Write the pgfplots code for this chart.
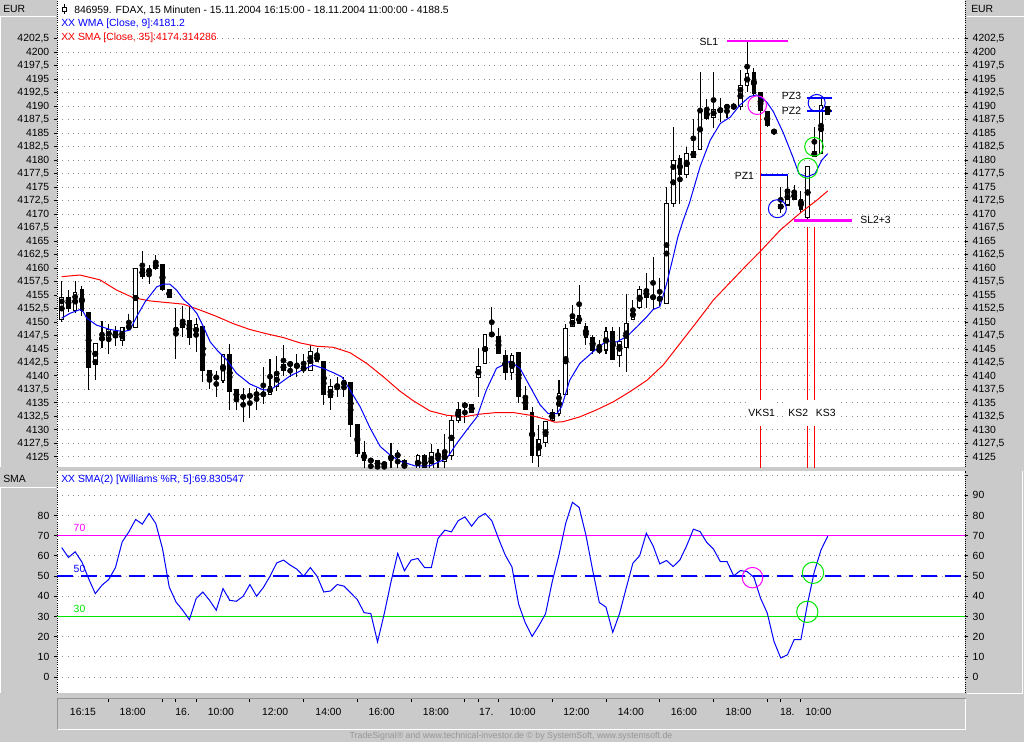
\documentclass[border=0pt]{standalone}
\usepackage{pgfplots}
\pgfplotsset{compat=1.18}
\usepackage{pgfplotstable}
\usepackage{fontspec}
\setmainfont{Liberation Sans}

\definecolor{panelgray}{RGB}{202,202,202}
\definecolor{gridgray}{RGB}{140,140,140}
\definecolor{edgegray}{RGB}{150,150,150}
\definecolor{tsblue}{RGB}{0,0,255}
\definecolor{tsred}{RGB}{255,0,0}
\definecolor{tsmag}{RGB}{255,0,255}
\definecolor{tsgreen}{RGB}{0,230,0}
\definecolor{footgray}{RGB}{150,150,150}

\newcommand{\tsfont}{\fontsize{7.8}{9.4}\selectfont}

\pgfplotstableread{
i O H L C
0 4150.5 4157.6 4150.0 4154.5
1 4154.6 4156.0 4151.9 4152.5
2 4152.2 4157.6 4151.7 4155.4
3 4156.0 4156.7 4151.1 4152.2
4 4151.7 4151.7 4137.3 4141.5
5 4142.2 4146.0 4139.2 4146.0
6 4146.6 4150.2 4145.1 4147.2
7 4147.1 4149.6 4144.0 4148.6
8 4148.2 4149.3 4145.6 4147.1
9 4146.6 4149.0 4145.6 4149.0
10 4148.6 4151.5 4148.3 4149.6
11 4149.0 4159.9 4149.0 4159.9
12 4159.9 4163.1 4157.9 4158.4
13 4159.0 4160.6 4157.0 4159.9
14 4159.9 4162.5 4159.6 4161.0
15 4160.6 4160.6 4155.7 4156.0
16 4156.0 4156.0 4154.5 4154.5
17 4148.1 4152.5 4143.1 4149.0
18 4149.0 4153.0 4147.2 4150.2
19 4150.3 4153.0 4145.7 4147.2
20 4147.5 4150.7 4144.5 4149.6
21 4149.1 4149.1 4138.8 4141.0
22 4141.0 4141.0 4137.5 4139.5
23 4139.7 4141.0 4136.0 4139.7
24 4139.2 4144.1 4138.6 4144.0
25 4144.0 4146.0 4133.6 4137.1
26 4137.5 4137.5 4133.7 4135.6
27 4136.1 4137.8 4131.5 4136.1
28 4136.6 4137.8 4132.1 4136.0
29 4136.6 4137.8 4133.6 4136.6
30 4136.6 4141.7 4134.8 4136.6
31 4136.6 4143.1 4136.6 4138.1
32 4138.0 4143.7 4137.2 4140.6
33 4141.0 4145.7 4140.0 4142.2
34 4142.2 4142.2 4139.7 4142.2
35 4142.2 4144.0 4139.7 4141.5
36 4141.7 4144.0 4140.6 4141.0
37 4141.0 4145.7 4141.0 4144.5
38 4144.0 4145.1 4142.6 4142.6
39 4142.6 4142.6 4134.6 4136.6
40 4136.0 4139.4 4133.6 4138.1
41 4138.1 4139.7 4136.0 4138.1
42 4138.1 4139.7 4136.0 4139.2
43 4138.8 4138.8 4128.6 4131.0
44 4131.0 4131.0 4125.0 4125.6
45 4125.8 4128.0 4122.0 4124.3
46 4124.3 4124.5 4122.0 4124.3
47 4124.3 4124.3 4122.0 4123.2
48 4123.3 4124.3 4122.0 4124.0
49 4124.4 4127.5 4122.0 4125.3
50 4125.3 4126.2 4122.0 4125.3
51 4124.4 4124.6 4122.0 4122.5
52 4122.8 4122.9 4121.5 4122.2
53 4122.5 4125.6 4122.0 4125.3
54 4125.3 4125.6 4122.0 4122.5
55 4122.5 4127.3 4122.0 4125.8
56 4125.3 4126.4 4123.0 4125.3
57 4124.1 4129.3 4122.5 4125.8
58 4125.3 4132.5 4124.4 4131.8
59 4131.8 4135.2 4131.2 4133.8
60 4134.4 4135.2 4131.2 4134.7
61 4134.7 4134.7 4133.2 4133.2
62 4139.7 4145.2 4136.1 4141.7
63 4142.3 4147.7 4142.2 4147.7
64 4147.7 4152.7 4147.2 4147.7
65 4147.3 4148.8 4144.1 4144.1
66 4143.8 4144.8 4139.3 4140.7
67 4140.7 4144.3 4139.3 4143.8
68 4144.3 4144.3 4134.9 4136.1
69 4136.2 4138.2 4133.8 4133.8
70 4133.2 4134.3 4123.8 4125.2
71 4125.2 4130.9 4123.1 4128.2
72 4127.6 4131.5 4126.9 4131.5
73 4131.7 4133.8 4131.5 4133.2
74 4133.0 4139.3 4132.5 4136.7
75 4136.6 4149.7 4136.6 4148.8
76 4149.1 4153.1 4149.1 4150.6
77 4151.2 4156.9 4149.7 4149.7
78 4149.2 4149.8 4145.7 4147.2
79 4147.2 4147.5 4144.0 4144.8
80 4144.8 4146.7 4144.1 4144.8
81 4144.8 4149.1 4144.1 4148.3
82 4148.3 4149.1 4143.1 4143.1
83 4143.8 4149.1 4141.7 4146.3
84 4145.2 4155.1 4140.7 4149.7
85 4150.4 4154.0 4150.4 4152.3
86 4152.6 4156.6 4152.5 4156.0
87 4156.0 4159.0 4152.5 4154.5
88 4154.6 4162.0 4152.5 4154.6
89 4154.6 4158.2 4153.0 4154.0
90 4153.5 4175.0 4153.5 4171.9
91 4171.9 4186.2 4171.3 4179.9
92 4180.3 4181.0 4171.9 4177.3
93 4177.3 4182.4 4176.7 4181.3
94 4180.5 4187.6 4180.5 4181.6
95 4182.0 4196.4 4182.0 4189.4
96 4189.2 4191.3 4187.5 4187.8
97 4188.0 4196.4 4185.9 4189.4
98 4189.1 4191.5 4187.1 4189.4
99 4189.9 4190.4 4187.8 4189.9
100 4189.9 4190.7 4189.3 4189.9
101 4189.9 4196.8 4189.3 4193.9
102 4193.9 4202.0 4192.7 4196.0
103 4196.3 4197.0 4192.1 4192.3
104 4192.5 4192.5 4188.4 4189.3
105 4189.0 4189.0 4186.1 4186.5
106 4185.3 4185.3 4185.3 4185.3
107 4171.1 4175.1 4170.2 4171.7
108 4171.7 4177.0 4171.5 4174.6
109 4174.1 4175.4 4172.7 4172.7
110 4172.7 4174.2 4170.2 4170.9
111 4169.3 4178.8 4169.1 4178.8
112 4180.7 4186.1 4180.7 4181.6
113 4181.3 4191.5 4181.3 4190.2
114 4189.9 4190.0 4188.4 4188.4
}\candles

\pgfplotstableread{
i p
0 4150.7
1.24 4151.6
2.72 4152.3
3.2 4151.9
3.72 4150.7
5.2 4149.4
7.19 4148.6
9.17 4148.2
10.16 4148.5
11.16 4151.0
12.4 4153.7
14.14 4156.5
15.1 4157.0
16.1 4157.0
17.1 4155.9
18.1 4154.2
19.1 4153.1
20.1 4151.6
21.1 4149.1
22.1 4146.3
23.1 4144.8
24.6 4142.9
26.0 4140.5
28.0 4138.5
30.0 4137.4
31.0 4137.4
32.0 4138.2
34.0 4140.0
36.0 4141.2
37.4 4142.0
38.9 4141.4
40.4 4140.6
41.7 4139.8
42.9 4137.4
44.4 4134.3
45.9 4130.3
47.4 4126.9
48.9 4125.3
50.3 4124.2
52.6 4123.3
54.8 4123.3
57.3 4124.7
58.8 4127.5
60.3 4130.0
61.8 4132.4
63.2 4137.4
64.7 4141.4
66.7 4142.7
68.2 4141.4
69.7 4138.0
71.2 4134.6
72.4 4133.0
73.7 4133.0
74.4 4134.3
75.6 4139.2
77.1 4142.3
79.1 4144.5
81.1 4146.5
82.6 4146.3
84.1 4147.3
85.6 4149.1
87.1 4151.0
88.0 4152.3
89.0 4152.8
90.0 4157.0
91.0 4162.1
91.7 4165.8
92.5 4168.9
93.4 4172.0
95.0 4178.8
96.5 4183.7
98.0 4186.8
99.5 4188.0
100.9 4190.2
102.4 4191.8
103.4 4192.1
104.9 4190.8
105.9 4189.0
107.4 4185.0
108.8 4180.6
109.7 4177.5
110.9 4176.9
112.1 4177.5
113.1 4180.0
114.0 4181.2
}\wma

\pgfplotstableread{
i p
0 4158.4
2.72 4158.7
5.7 4157.8
8.18 4155.9
10.65 4154.5
13.14 4153.9
15.6 4153.6
18.1 4153.3
20.6 4152.2
23.1 4151.0
25.5 4149.7
28.0 4148.6
30.5 4147.8
33.0 4147.1
35.5 4146.1
37.9 4145.5
40.4 4145.3
42.9 4144.3
45.4 4142.3
47.9 4139.8
50.3 4137.2
52.3 4135.4
54.8 4133.5
57.3 4132.7
59.8 4132.4
62.2 4132.9
64.7 4133.2
67.2 4133.2
69.7 4132.7
72.2 4131.9
73.4 4131.4
74.6 4131.5
77.1 4132.4
79.6 4133.7
82.1 4135.2
84.6 4137.1
87.1 4139.2
89.5 4142.0
92.0 4146.0
94.5 4150.0
97.0 4154.1
101.9 4160.5
103.9 4163.0
106.9 4167.0
109.8 4170.1
112.4 4172.6
114.0 4174.3
}\sma

\pgfplotstableread{
i v
0 64.1
1 59.2
2 62.0
3 57.0
4 48.8
5 41.3
6 45.5
7 48.3
8 54.2
9 66.9
10 71.9
11 78.0
12 75.7
13 81.0
14 76.0
15 63.6
16 44.6
17 37.2
18 33.1
19 28.4
20 38.8
21 42.1
22 38.0
23 33.1
24 43.8
25 38.0
26 37.5
27 40.0
28 45.8
29 40.0
30 44.3
31 49.9
32 56.5
33 57.9
34 55.4
35 53.4
36 49.9
37 54.2
38 49.9
39 42.1
40 42.6
41 45.8
42 45.0
43 41.7
44 38.3
45 31.9
46 31.4
47 17.4
48 31.4
49 47.1
50 61.2
51 52.6
52 57.9
53 58.7
54 54.2
55 54.2
56 68.6
57 72.7
58 71.9
59 77.4
60 79.3
61 74.7
62 79.0
63 81.0
64 77.4
65 68.6
66 60.4
67 54.5
68 36.0
69 26.7
70 20.1
71 25.4
72 31.3
73 47.3
74 60.5
75 76.1
76 86.5
77 84.0
78 70.4
79 53.1
80 36.9
81 34.6
82 22.1
83 31.3
84 44.0
85 56.4
86 60.0
87 71.2
88 65.0
89 56.0
90 57.7
91 54.7
92 58.0
93 65.0
94 73.2
95 72.0
96 66.6
97 63.3
98 57.2
99 57.2
100 50.1
101 52.7
102 52.2
103 49.4
104 39.0
105 31.6
106 17.6
107 9.4
108 11.0
109 18.5
110 18.5
111 36.6
112 52.2
113 63.0
114 69.8
}\wpr

\pgfplotsset{
  tsbase/.style={
    scale only axis, width=681pt, anchor=north west,
    xmin=-0.7, xmax=134.42,
    axis x line=none,
    tick align=outside, major tick length=2.25pt,
    ytick style={black, line width=0.6pt},
    y axis line style={black, densely dotted, line width=0.6pt},
    /pgf/number format/assume math mode=true,
    tick label style={font=\tsfont, black},
    major grid style={gridgray, line width=0.75pt, dash pattern=on 0.75pt off 3.25pt},
    scaled y ticks=false,
  },
  topaxis/.style={tsbase, at={(42.75pt,0pt)}, height=350.25pt,
    ymin=4123.1, ymax=4209.7,
    ytick={4125,4127.5,...,4202.5},
    yticklabel style={/pgf/number format/.cd, fixed, precision=1, use comma, 1000 sep={}},
  },
  botaxis/.style={tsbase, at={(42.75pt,-353.25pt)}, height=166.5pt,
    ymin=-7.9, ymax=102},
  candlebar/.style={only marks, mark=none,
    error bars/.cd, y dir=both, y explicit, error mark=none},
}

\begin{document}
\begin{tikzpicture}
\useasboundingbox (0,0) rectangle (768pt,-556.5pt);
\fill[panelgray] (0,0) rectangle (768pt,-556.5pt);

% ---------- top panel: right labels, grid, background
\begin{axis}[topaxis, axis y line*=right, ymajorgrids, axis background/.style={fill=white}]
\addplot[draw=none] coordinates {(0,4150)};
\end{axis}

% ---------- top panel: left labels and data
\begin{axis}[topaxis, axis y line*=left]
% wicks (low to high)
\addplot[candlebar, error bar style={black, line width=0.8pt}]
  table[x=i, y expr={(\thisrow{H}+\thisrow{L})/2}, y error expr={(\thisrow{H}-\thisrow{L})/2}]{\candles};
% bodies: black outer part (open to close)
\addplot[candlebar, error bar style={black, line width=3.5pt}]
  table[x=i, y expr={(\thisrow{O}+\thisrow{C})/2}, y error expr={abs(\thisrow{C}-\thisrow{O})/2+0.1}]{\candles};
% bodies: white inside for rising candles
\addplot[candlebar, error bar style={white, line width=1.95pt}]
  table[x=i, y expr={(\thisrow{O}+\thisrow{C})/2}, y error expr={\thisrow{C}<\thisrow{O} ? 0 : max(0,(\thisrow{C}-\thisrow{O})/2-0.1)}]{\candles};
\addplot[tsred, line width=0.75pt] table[x=i, y=p]{\sma};
\addplot[tsblue, line width=0.75pt] table[x=i, y=p]{\wma};
% stop loss and target lines
\addplot[tsmag, line width=1.6pt] coordinates {(99.0,4202.1) (108.1,4202.1)};
\addplot[tsmag, line width=1.6pt] coordinates {(109.0,4168.8) (117.6,4168.8)};
\addplot[tsblue, line width=1.5pt] coordinates {(104.0,4177.2) (108.1,4177.2)};
\addplot[tsblue, line width=1.5pt] coordinates {(110.9,4191.6) (114.6,4191.6)};
\addplot[tsblue, line width=1.5pt] coordinates {(110.9,4189.2) (114.6,4189.2)};
% entry lines
\addplot[tsred, line width=0.75pt] coordinates {(104.0,4188.3) (104.0,4120)};
\addplot[tsred, line width=0.75pt] coordinates {(110.95,4167.6) (110.95,4120)};
\addplot[tsred, line width=0.75pt] coordinates {(112.0,4167.6) (112.0,4120)};
% circles
\addplot[only marks, mark=o, mark size=7pt, tsmag, line width=0.75pt] coordinates {(103.5,4190.2)};
\addplot[only marks, mark=o, mark size=6.75pt, tsblue, line width=0.75pt] coordinates {(106.5,4171.0)};
\addplot[only marks, mark=o, mark size=6.4pt, tsblue, line width=0.75pt] coordinates {(112.35,4190.6)};
\addplot[only marks, mark=o, mark size=7pt, tsgreen, line width=0.75pt] coordinates {(111.95,4182.5)};
\addplot[only marks, mark=o, mark size=7.5pt, tsgreen, line width=0.75pt] coordinates {(111.0,4178.5)};
% labels
\node[font=\tsfont] at (axis cs:96.3,4201.9) {SL1};
\node[font=\tsfont] at (axis cs:108.6,4191.9) {PZ3};
\node[font=\tsfont] at (axis cs:108.6,4189.2) {PZ2};
\node[font=\tsfont] at (axis cs:101.6,4177.1) {PZ1};
\node[font=\tsfont] at (axis cs:121.1,4168.9) {SL2+3};
\node[font=\tsfont, fill=white, inner xsep=1.5pt, minimum height=19.5pt] at (axis cs:104.17,4133.05) {VKS1};
\node[font=\tsfont, fill=white, inner xsep=1.5pt, minimum height=19.5pt] at (axis cs:109.6,4133.05) {KS2};
\node[font=\tsfont, fill=white, inner xsep=1.5pt, minimum height=19.5pt] at (axis cs:113.7,4133.05) {KS3};
\end{axis}

% ---------- bottom panel: right labels, grid, background
\begin{axis}[botaxis, axis y line*=right, ymajorgrids, axis background/.style={fill=white},
  ytick={0,10,...,100}, yticklabels={0,10,20,30,40,50,60,70,80,90,{}}]
\addplot[draw=none] coordinates {(0,50)};
\end{axis}

% ---------- bottom panel: left labels and data
\begin{axis}[botaxis, axis y line*=left, ytick={0,10,...,80}]
\addplot[tsmag, line width=0.75pt] coordinates {(-1,70) (135,70)};
\addplot[tsgreen, line width=0.75pt] coordinates {(-1,30.2) (135,30.2)};
\addplot[tsblue, line width=1.1pt, dash pattern=on 12pt off 6pt] coordinates {(-0.7,50) (135,50)};
\addplot[tsblue, line width=0.75pt] table[x=i, y=v]{\wpr};
\addplot[only marks, mark=o, mark size=7.7pt, tsmag, line width=0.75pt] coordinates {(102.8,49.2)};
\addplot[only marks, mark=o, mark size=8pt, tsgreen, line width=0.75pt] coordinates {(111.8,51.6) (110.95,32.3)};
\node[font=\tsfont, text=tsmag] at (axis cs:2.65,73.6) {70};
\node[font=\tsfont, text=tsblue] at (axis cs:2.65,53.6) {50};
\node[font=\tsfont, text=tsgreen] at (axis cs:2.65,33.8) {30};
\end{axis}

% ---------- time axis band
\begin{axis}[scale only axis, width=681pt, height=23.25pt, at={(42.75pt,-523.5pt)}, anchor=north west,
  xmin=-0.7, xmax=134.42, ymin=0, ymax=1,
  axis line style={draw=none}, ytick=\empty,
  xtick={7,15,17,20,28,36,44,52,60,62,65,73,81,89,97,105,107,110}, xticklabels={},
  xtick pos=right, xticklabel pos=right, tick align=inside, major tick length=3pt,
  xtick style={black, line width=0.75pt},
  tick label style={font=\tsfont, black},
  extra x ticks={3.17,10.57,18.0,23.7,31.75,39.7,47.6,55.7,63.2,68.6,76.6,84.7,92.6,100.7,107.97,112.6},
  extra x tick labels={16:15,18:00,16.,10:00,12:00,14:00,16:00,18:00,17.,10:00,12:00,14:00,16:00,18:00,18.,10:00},
  extra x tick style={major tick length=0pt, tick label style={anchor=center, yshift=-10.5pt}},
]
\addplot[draw=none] coordinates {(0,0.5)};
\end{axis}

% ---------- decorations and texts (pixel coordinates)
\begin{scope}[x=0.75pt, y=-0.75pt]
\draw[white, line width=0.75pt] (0,16.5) -- (56,16.5);
\draw[white, line width=0.75pt] (0.5,17) -- (0.5,467);
\draw[white, line width=0.75pt] (967,16.5) -- (1024,16.5);
\draw[white, line width=0.75pt] (0,487) -- (56,487);
\draw[white, line width=0.75pt] (0.5,487) -- (0.5,693);
\draw[white, line width=0.75pt] (967,693.5) -- (1022,693.5) -- (1022,471);
\node[anchor=west, font=\tsfont, inner sep=0pt] at (3,8.5) {EUR};
\node[anchor=west, font=\tsfont, inner sep=0pt] at (971,8.5) {EUR};
\node[anchor=west, font=\tsfont, inner sep=0pt] at (3,478.5) {SMA};
\draw[line width=0.75pt] (64.5,4.5) -- (64.5,14.5);
\draw[line width=0.75pt, fill=white] (62.5,7.5) rectangle (66.5,11.5);
\node[anchor=west, font=\tsfont, inner sep=0pt] at (74,10) {846959. FDAX, 15 Minuten - 15.11.2004 16:15:00 - 18.11.2004 11:00:00 - 4188.5};
\node[anchor=west, font=\tsfont, inner sep=0pt, text=tsblue] at (61,24) {XX WMA [Close, 9]:4181.2};
\node[anchor=west, font=\tsfont, inner sep=0pt, text=tsred] at (61,38) {XX SMA [Close, 35]:4174.314286};
\node[anchor=west, font=\tsfont, inner sep=0pt, text=tsblue] at (61,480) {XX SMA(2) [Williams \%R, 5]:69.830547};
\draw[white, line width=0.75pt] (57.5,729.5) -- (965.5,729.5) -- (965.5,698);
\draw[edgegray, line width=0.75pt] (57.5,729) -- (57.5,698.5) -- (965.5,698.5);
\node[font=\fontsize{6.6}{8}\selectfont, text=footgray, inner sep=0pt] at (511,736) {TradeSignal\textregistered{} and www.technical-investor.de \textcopyright\ by SystemSoft, www.systemsoft.de};
\end{scope}
\end{tikzpicture}
\end{document}
